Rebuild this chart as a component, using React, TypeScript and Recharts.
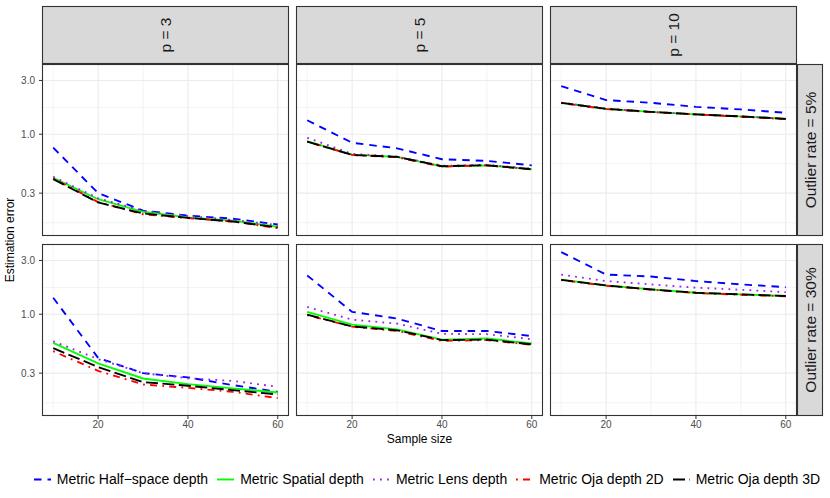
import React from 'react';
import { LineChart, Line, XAxis, YAxis, CartesianGrid } from 'recharts';

const sampleSizes = [10, 20, 30, 40, 50, 60];
const dimLabels = ['p = 3', 'p = 5', 'p = 10'];
const rateLabels = ['Outlier rate = 5%', 'Outlier rate = 30%'];

// each array: one row per dimension (p = 3, 5, 10), values at sampleSizes
const halfSpace5 = [
  [0.76, 0.3, 0.21, 0.19, 0.178, 0.158],
  [1.33, 0.84, 0.75, 0.6, 0.58, 0.53],
  [2.67, 2.01, 1.9, 1.75, 1.66, 1.55],
];
const spatial5 = [
  [0.41, 0.265, 0.205, 0.183, 0.171, 0.151],
  [0.87, 0.66, 0.63, 0.52, 0.53, 0.49],
  [1.9, 1.68, 1.58, 1.5, 1.44, 1.37],
];
const lens5 = [
  [0.42, 0.27, 0.21, 0.188, 0.174, 0.156],
  [0.93, 0.67, 0.635, 0.525, 0.535, 0.495],
  [1.91, 1.69, 1.58, 1.5, 1.44, 1.37],
];
const oja2d5 = [
  [0.405, 0.25, 0.195, 0.18, 0.168, 0.147],
  [0.86, 0.655, 0.625, 0.515, 0.53, 0.49],
  [1.89, 1.67, 1.57, 1.5, 1.43, 1.36],
];
const oja3d5 = [
  [0.4, 0.248, 0.198, 0.181, 0.168, 0.149],
  [0.86, 0.655, 0.63, 0.52, 0.53, 0.488],
  [1.9, 1.68, 1.58, 1.5, 1.44, 1.37],
];

const halfSpace30 = [
  [1.4, 0.41, 0.3, 0.275, 0.235, 0.205],
  [2.21, 1.05, 0.915, 0.71, 0.71, 0.64],
  [3.56, 2.25, 2.16, 1.97, 1.84, 1.74],
];
const spatial30 = [
  [0.557, 0.366, 0.269, 0.24, 0.22, 0.202],
  [1.05, 0.81, 0.735, 0.595, 0.61, 0.55],
  [2.03, 1.8, 1.66, 1.55, 1.5, 1.45],
];
const lens30 = [
  [0.575, 0.4, 0.3, 0.27, 0.256, 0.227],
  [1.16, 0.895, 0.826, 0.67, 0.665, 0.6],
  [2.25, 1.97, 1.84, 1.72, 1.65, 1.57],
];
const oja2d30 = [
  [0.47, 0.315, 0.238, 0.222, 0.205, 0.18],
  [0.98, 0.775, 0.71, 0.58, 0.59, 0.535],
  [2.01, 1.79, 1.65, 1.54, 1.49, 1.44],
];
const oja3d30 = [
  [0.5, 0.34, 0.25, 0.232, 0.212, 0.194],
  [0.99, 0.78, 0.72, 0.59, 0.595, 0.54],
  [2.02, 1.8, 1.66, 1.55, 1.5, 1.45],
];

const yTicks = [0.3, 1, 3];
const yMinor = [0.164, 0.548, 1.73];
const xTicks = [20, 40, 60];
const xMinor = [10, 30, 50];

const series = [
  { key: 'halfSpace', name: 'Metric Half\u2212space depth', color: '#0000FF', dash: '7.5 6', values: [halfSpace5, halfSpace30] },
  { key: 'spatial', name: 'Metric Spatial depth', color: '#00FF00', dash: undefined, values: [spatial5, spatial30] },
  { key: 'lens', name: 'Metric Lens depth', color: '#A020F0', dash: '1.8 5.2', values: [lens5, lens30] },
  { key: 'oja2d', name: 'Metric Oja depth 2D', color: '#FF0000', dash: '1.8 5.2 7 5.2', values: [oja2d5, oja2d30] },
  { key: 'oja3d', name: 'Metric Oja depth 3D', color: '#000000', dash: '12 4.5', values: [oja3d5, oja3d30] },
];

const FONT = '"Liberation Sans", Arial, Helvetica, sans-serif';
const colLeft = [42, 296, 550];
const panelW = 247;
const rowTop = [64, 244];
const panelH = 172;
const stripTop = 6;
const stripRight = 823;
const yDomain = [0.125, 4.2];
const xDomain = [7.5, 62.5];

const Panel = ({ r, c }: { r: number; c: number }) => {
  const data = sampleSizes.map((n, i) => {
    const row: Record<string, number> = { n };
    series.forEach((s) => {
      row[s.key] = s.values[r][c][i];
    });
    return row;
  });
  const yw = c === 0 ? colLeft[0] : 0;
  const xh = r === 1 ? 24 : 0;
  const tickStyle = { fontSize: 10, fill: '#4D4D4D', fontFamily: FONT };
  return (
    <div style={{ position: 'absolute', left: colLeft[c] - yw, top: rowTop[r] }}>
      <LineChart width={panelW + yw} height={panelH + xh} data={data} margin={{ top: 0, right: 0, bottom: 0, left: 0 }}>
        <CartesianGrid horizontalValues={yMinor} verticalValues={xMinor} stroke="#EBEBEB" strokeWidth={0.6} />
        <CartesianGrid horizontalValues={yTicks} verticalValues={xTicks} stroke="#EBEBEB" strokeWidth={1.1} />
        <XAxis
          dataKey="n"
          type="number"
          domain={xDomain}
          ticks={xTicks}
          hide={r !== 1}
          height={xh}
          axisLine={false}
          tickSize={3}
          tickMargin={2}
          tickLine={{ stroke: '#333333' }}
          tick={tickStyle}
          allowDataOverflow
        />
        <YAxis
          type="number"
          scale="log"
          domain={yDomain}
          ticks={yTicks}
          hide={c !== 0}
          width={yw}
          axisLine={false}
          tickSize={3}
          tickMargin={4}
          tickLine={{ stroke: '#333333' }}
          tick={tickStyle}
          tickFormatter={(v: number) => v.toFixed(1)}
          allowDataOverflow
        />
        {series.map((s) => (
          <Line
            key={s.key}
            dataKey={s.key}
            stroke={s.color}
            strokeWidth={1.85}
            strokeDasharray={s.dash}
            dot={false}
            activeDot={false}
            type="linear"
            isAnimationActive={false}
          />
        ))}
      </LineChart>
    </div>
  );
};

const App = () => {
  return (
    <div
      style={{
        position: 'absolute',
        left: 0,
        top: 0,
        width: 830,
        height: 498,
        background: '#FFFFFF',
        fontFamily: FONT,
        overflow: 'hidden',
      }}
    >
      {rowTop.map((_, r) => colLeft.map((__, c) => <Panel key={`${r}-${c}`} r={r} c={c} />))}
      <svg width={830} height={498} style={{ position: 'absolute', left: 0, top: 0, pointerEvents: 'none' }}>
        {/* panel borders */}
        {rowTop.map((t, r) =>
          colLeft.map((l, c) => (
            <rect key={`b${r}${c}`} x={l + 0.5} y={t + 0.5} width={panelW - 1} height={panelH - 1} fill="none" stroke="#333333" strokeWidth={1.1} />
          ))
        )}
        {/* top strips */}
        {colLeft.map((l, c) => (
          <g key={`s${c}`}>
            <rect x={l + 0.5} y={stripTop + 0.5} width={panelW - 1} height={rowTop[0] - stripTop - 1} fill="#D9D9D9" stroke="#333333" strokeWidth={1.1} />
            <text
              transform={`translate(${l + panelW / 2},${(stripTop + rowTop[0]) / 2}) rotate(-90)`}
              textAnchor="middle"
              dominantBaseline="central"
              fontSize={15.5}
              fill="#1A1A1A"
            >
              {dimLabels[c]}
            </text>
          </g>
        ))}
        {/* right strips */}
        {rowTop.map((t, r) => {
          const x0 = colLeft[2] + panelW;
          return (
            <g key={`rs${r}`}>
              <rect x={x0 + 0.5} y={t + 0.5} width={stripRight - x0 - 1} height={panelH - 1} fill="#D9D9D9" stroke="#333333" strokeWidth={1.1} />
              <text
                transform={`translate(${(x0 + stripRight) / 2},${t + panelH / 2}) rotate(-90)`}
                textAnchor="middle"
                dominantBaseline="central"
                fontSize={15.5}
                fill="#1A1A1A"
              >
                {rateLabels[r]}
              </text>
            </g>
          );
        })}
        {/* axis titles */}
        <text
          transform={`translate(10,${(rowTop[0] + rowTop[1] + panelH) / 2}) rotate(-90)`}
          textAnchor="middle"
          dominantBaseline="central"
          fontSize={12}
          fill="#000000"
        >
          Estimation error
        </text>
        <text x={(colLeft[0] + colLeft[2] + panelW) / 2} y={439} textAnchor="middle" dominantBaseline="central" fontSize={12} fill="#000000">
          Sample size
        </text>
      </svg>
      {/* legend */}
      <div
        style={{
          position: 'absolute',
          left: 20,
          width: 814,
          top: 469,
          height: 20,
          display: 'flex',
          justifyContent: 'center',
          alignItems: 'center',
          gap: 9,
          fontSize: 14,
          color: '#000000',
        }}
      >
        {series.map((s) => (
          <div key={s.key} style={{ display: 'flex', alignItems: 'center' }}>
            <svg width={17} height={17}>
              <line x1={0} y1={8.5} x2={17} y2={8.5} stroke={s.color} strokeWidth={1.85} strokeDasharray={s.dash} />
            </svg>
            <span style={{ marginLeft: 6, whiteSpace: 'nowrap' }}>{s.name}</span>
          </div>
        ))}
      </div>
    </div>
  );
};

export default App;
